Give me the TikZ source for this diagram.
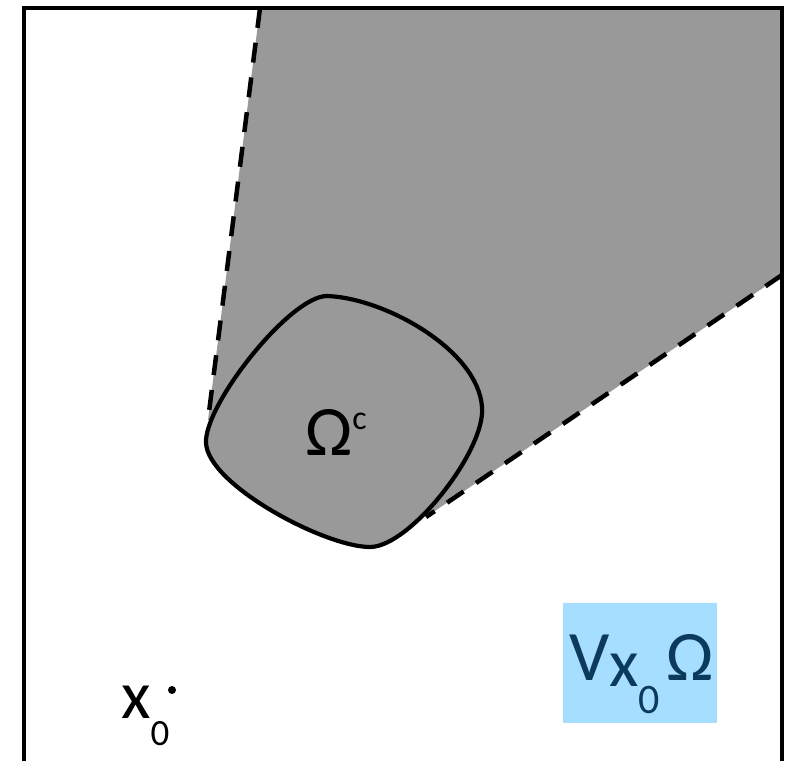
\documentclass[tikz,border=0pt]{standalone}
\usepackage{fontspec}
\setmainfont{Carlito}
\definecolor{regiongray}{HTML}{999999}
\definecolor{boxblue}{HTML}{A6DEFF}
\definecolor{textblue}{HTML}{0B3A5B}
\tikzset{
  frameline/.style={line width=3.5pt},
  tangentline/.style={line width=4.5pt, dash pattern=on 20pt off 15pt},
  blobline/.style={line width=4.2pt},
  bigtext/.style={font=\fontsize{71}{71}\selectfont, inner sep=0pt},
}
\begin{document}
\begin{tikzpicture}[x=1pt,y=-1pt]
\useasboundingbox (0,0) rectangle (792,761);
% key points
\coordinate (tl) at (24,8);
\coordinate (tr) at (782,8);
\coordinate (bl) at (24,761);
\coordinate (br) at (782,761);
\coordinate (t1a) at (260,8);
\coordinate (t1b) at (208,420);
\coordinate (t2a) at (782,275);
\coordinate (t2b) at (426,517);
\coordinate (bc) at (345,420);
% shaded cone
\fill[regiongray] (t1a) -- (tr) -- (t2a) -- (t2b) -- (bc) -- (t1b) -- cycle;
% blob
\filldraw[fill=regiongray, blobline]
  (327,296) .. controls (385,298) and (478,350) .. (482,407)
            .. controls (486,450) and (410,547) .. (370,547)
            .. controls (325,547) and (208,485) .. (206,443)
            .. controls (204,405) and (290,296) .. (327,296) -- cycle;
% tangent lines
\draw[tangentline] (t1a) -- (t1b);
\draw[tangentline] (t2a) -- (t2b);
% frame
\draw[frameline] (bl) -- (tl) -- (tr) -- (br);
% labels
\node[bigtext, anchor=base west] (omc) at (305,455) {Ω\raisebox{26pt}{\fontsize{34}{34}\selectfont c}};
\node[fill=boxblue, minimum width=154pt, minimum height=120pt, inner sep=0pt] (vbox) at (640,663) {};
\node[bigtext, anchor=base west, text=textblue] (vlabel) at (569,680)
  {V\raisebox{-6pt}{\fontsize{68}{68}\selectfont x}\raisebox{-33pt}{\fontsize{42}{42}\selectfont 0}\hspace{6pt}Ω};
\node[bigtext, anchor=base west, font=\fontsize{68}{68}\selectfont] (xlabel) at (121,718)
  {x\raisebox{-27pt}{\fontsize{37}{37}\selectfont 0}};
\fill (172,690) circle (4pt);
\end{tikzpicture}
\end{document}
